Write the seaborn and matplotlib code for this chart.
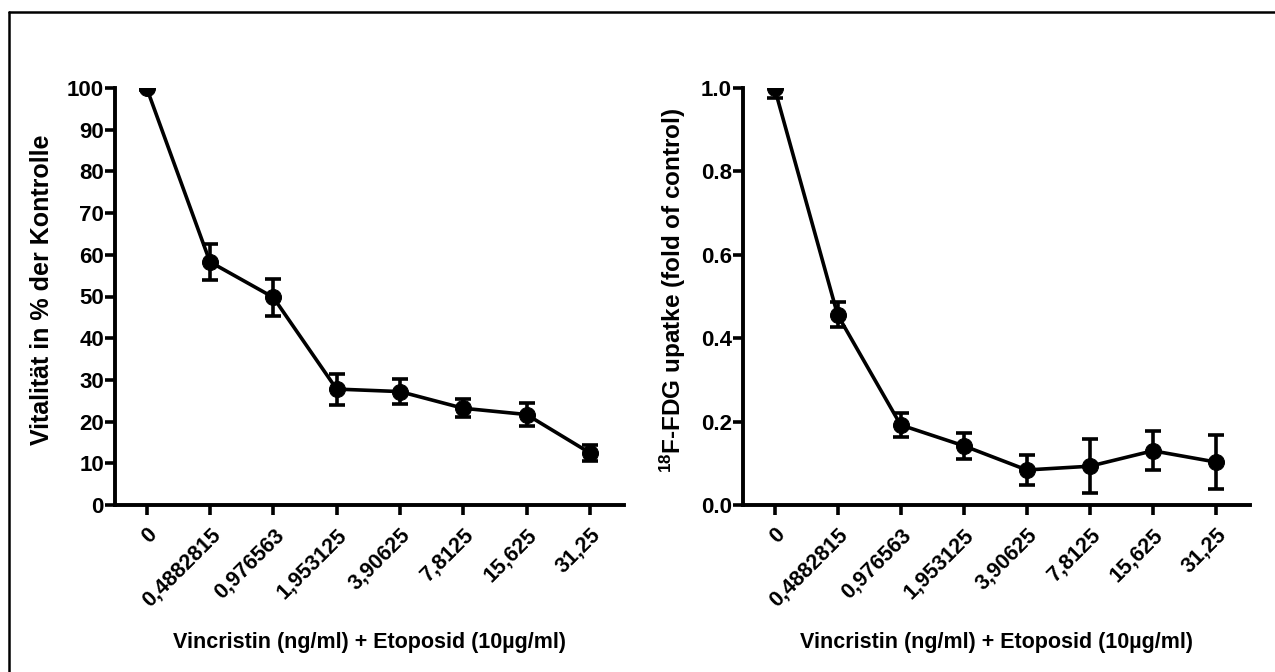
import matplotlib
matplotlib.use("Agg")
import matplotlib.pyplot as plt
import seaborn as sns
import pandas as pd
import numpy as np
from matplotlib.lines import Line2D

# ---- data ----
categories = ["0", "0,4882815", "0,976563", "1,953125", "3,90625", "7,8125", "15,625", "31,25"]
vital_mean = [100.0, 58.3, 49.8, 27.8, 27.2, 23.2, 21.7, 12.5]
vital_err = [0.5, 4.4, 4.4, 3.7, 2.9, 2.1, 2.7, 2.0]
fdg_mean = [1.0, 0.456, 0.192, 0.142, 0.084, 0.093, 0.130, 0.103]
fdg_err = [0.025, 0.030, 0.028, 0.031, 0.035, 0.065, 0.047, 0.065]
xlabel = "Vincristin (ng/ml) + Etoposid (10µg/ml)"
ylabel_left = "Vitalität in % der Kontrolle"
ylabel_right = r"$\mathbf{^{18}}$F-FDG upatke (fold of control)"

sns.set_theme(style="white")
plt.rcParams["font.family"] = ["Liberation Sans", "DejaVu Sans"]
plt.rcParams["font.weight"] = "bold"
plt.rcParams["text.color"] = "black"
plt.rcParams["axes.labelcolor"] = "black"
plt.rcParams["xtick.color"] = "black"
plt.rcParams["ytick.color"] = "black"
plt.rcParams["mathtext.fontset"] = "custom"
plt.rcParams["mathtext.bf"] = "Liberation Sans:bold"
plt.rcParams["mathtext.rm"] = "Liberation Sans:bold"

W, H = 1275, 672
fig = plt.figure(figsize=(W / 100, H / 100), dpi=100)
fig.patch.set_facecolor("white")

ax1 = fig.add_axes([115 / W, 1 - 505 / H, (624 - 115) / W, (505 - 88) / H])
ax2 = fig.add_axes([743 / W, 1 - 505 / H, (1250 - 743) / W, (505 - 88) / H])

def draw(ax, mean, err, ylim, yticks, yfmt, ylab, ylab_x, ylab_size):
    df = pd.DataFrame({"x": np.arange(len(categories)), "y": mean})
    ax.errorbar(df["x"], df["y"], yerr=err, fmt="none", ecolor="black",
                elinewidth=2.6, capsize=6, capthick=2.6, zorder=3)
    sns.lineplot(data=df, x="x", y="y", ax=ax, color="black", linewidth=2.6,
                 marker="o", markersize=11.5, markeredgecolor="black",
                 markerfacecolor="black", zorder=4)
    ax.set_xlim(-0.5, 7.54)
    ax.set_ylim(*ylim)
    ax.set_yticks(yticks)
    ax.set_yticklabels([yfmt(v) for v in yticks], fontsize=16, fontweight="bold",
                       color="black")
    ax.set_xticks(np.arange(len(categories)))
    ax.set_xticklabels(categories, rotation=45, ha="right", rotation_mode="anchor",
                       fontsize=15.5, fontweight="bold", color="black")
    for s in ["top", "right"]:
        ax.spines[s].set_visible(False)
    for s in ["left", "bottom"]:
        ax.spines[s].set_linewidth(2.8)
        ax.spines[s].set_color("black")
    ax.tick_params(axis="both", direction="out", length=7, width=2.6, colors="black",
                   left=True, bottom=True)
    ax.tick_params(axis="y", pad=1)
    ax.tick_params(axis="x", pad=7)
    ax.set_xlabel(xlabel, fontsize=15.5, fontweight="bold", labelpad=4, color="black")
    ax.set_ylabel("")
    ax.grid(False)
    ax.set_facecolor("white")
    fig.text(ylab_x / W, 1 - 290 / H, ylab, rotation=90, ha="center", va="center",
             fontsize=ylab_size, fontweight="bold", color="black")
    for sp in ax.spines.values():
        sp.set_zorder(5)

draw(ax1, vital_mean, vital_err, (0, 100), list(range(0, 101, 10)),
     lambda v: f"{v:d}", ylabel_left, 42, 18)
draw(ax2, fdg_mean, fdg_err, (0, 1.0), [0.0, 0.2, 0.4, 0.6, 0.8, 1.0],
     lambda v: f"{v:.1f}", ylabel_right, 673, 17.5)

for ax in (ax1, ax2):
    ax.xaxis.set_label_coords(0.5, -0.305)

# outer frame (top and left edges visible)
fig.add_artist(Line2D([9 / W, 1.0], [1 - 12 / H, 1 - 12 / H], transform=fig.transFigure,
                      color="black", linewidth=1.8))
fig.add_artist(Line2D([9 / W, 9 / W], [0.0, 1 - 12 / H], transform=fig.transFigure,
                      color="black", linewidth=1.8))

fig.savefig("out.png", dpi=100, facecolor="white")
